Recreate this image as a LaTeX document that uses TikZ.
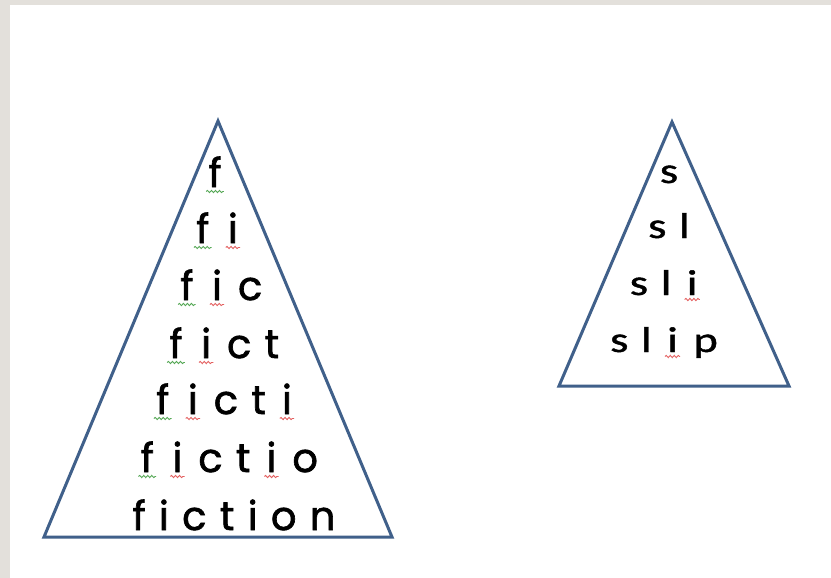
\documentclass[tikz,border=0pt]{standalone}
\usepackage{fontspec}
\setmainfont{Poppins}
\newfontfamily\comicfont{Poppins}[WordSpace=1.25,FakeBold=1.6]
\newfontfamily\slipfont{Carlito}[FakeStretch=1.3,WordSpace=1.2,FakeBold=1.2]
\usepackage{tikz}
\usetikzlibrary{decorations.pathmorphing}

\definecolor{framegray}{RGB}{227,224,219}
\definecolor{outline}{RGB}{64,96,138}
\definecolor{spellred}{RGB}{228,96,96}
\definecolor{spellgreen}{RGB}{86,168,86}

% wavy spell-check line under one letter
\newcommand\squig[2]{\tikz[baseline=(w.base)]{\node[inner sep=0pt,anchor=center] (w) {#2};
  \draw[#1,line width=0.9pt,decorate,decoration={snake,amplitude=1.1pt,segment length=4pt}]
    ([xshift=-2pt,yshift=-4.5pt]w.base west) -- ([xshift=2pt,yshift=-4.5pt]w.base east);}}

\begin{document}
\begin{tikzpicture}[x=1pt, y=-1pt,
    pyramid/.style={draw=outline, line width=3pt, line join=miter},
    fictrow/.style={font=\comicfont\fontsize{40}{44}\selectfont, anchor=base, inner sep=0pt},
    sliprow/.style={font=\slipfont\fontsize{36}{40}\selectfont, anchor=base, inner sep=0pt}]
    \useasboundingbox (0,0) rectangle (831,578);
    % page and frame
    \fill[framegray] (0,0) rectangle (831,578);
    \fill[white] (10,5) rectangle (831,578);
    % triangles
    \draw[pyramid] (218,121) -- (392,537) -- (44,537) -- cycle;
    \draw[pyramid] (672,122) -- (789,386) -- (559,386) -- cycle;
    % fiction
    \node[fictrow] (f1) at (215,187) {\squig{spellgreen}{f}};
    \node[fictrow] (f2) at (217,243) {\squig{spellgreen}{f} \squig{spellred}{i}};
    \node[fictrow] (f3) at (220,300) {\squig{spellgreen}{f} \squig{spellred}{i} c};
    \node[fictrow] (f4) at (223,358) {\squig{spellgreen}{f} \squig{spellred}{i} c t};
    \node[fictrow] (f5) at (224,414) {\squig{spellgreen}{f} \squig{spellred}{i} c t \squig{spellred}{i}};
    \node[fictrow] (f6) at (228,472) {\squig{spellgreen}{f} \squig{spellred}{i} c t \squig{spellred}{i} o};
    \node[fictrow] (f7) at (234,530) {f i c t i o n};
    % slip
    \node[sliprow] (s1) at (669,183) {s};
    \node[sliprow] (s2) at (669,238) {s l};
    \node[sliprow] (s3) at (665,295) {s l \squig{spellred}{i}};
    \node[sliprow] (s4) at (664,352) {s l \squig{spellred}{i} p};
\end{tikzpicture}
\end{document}
